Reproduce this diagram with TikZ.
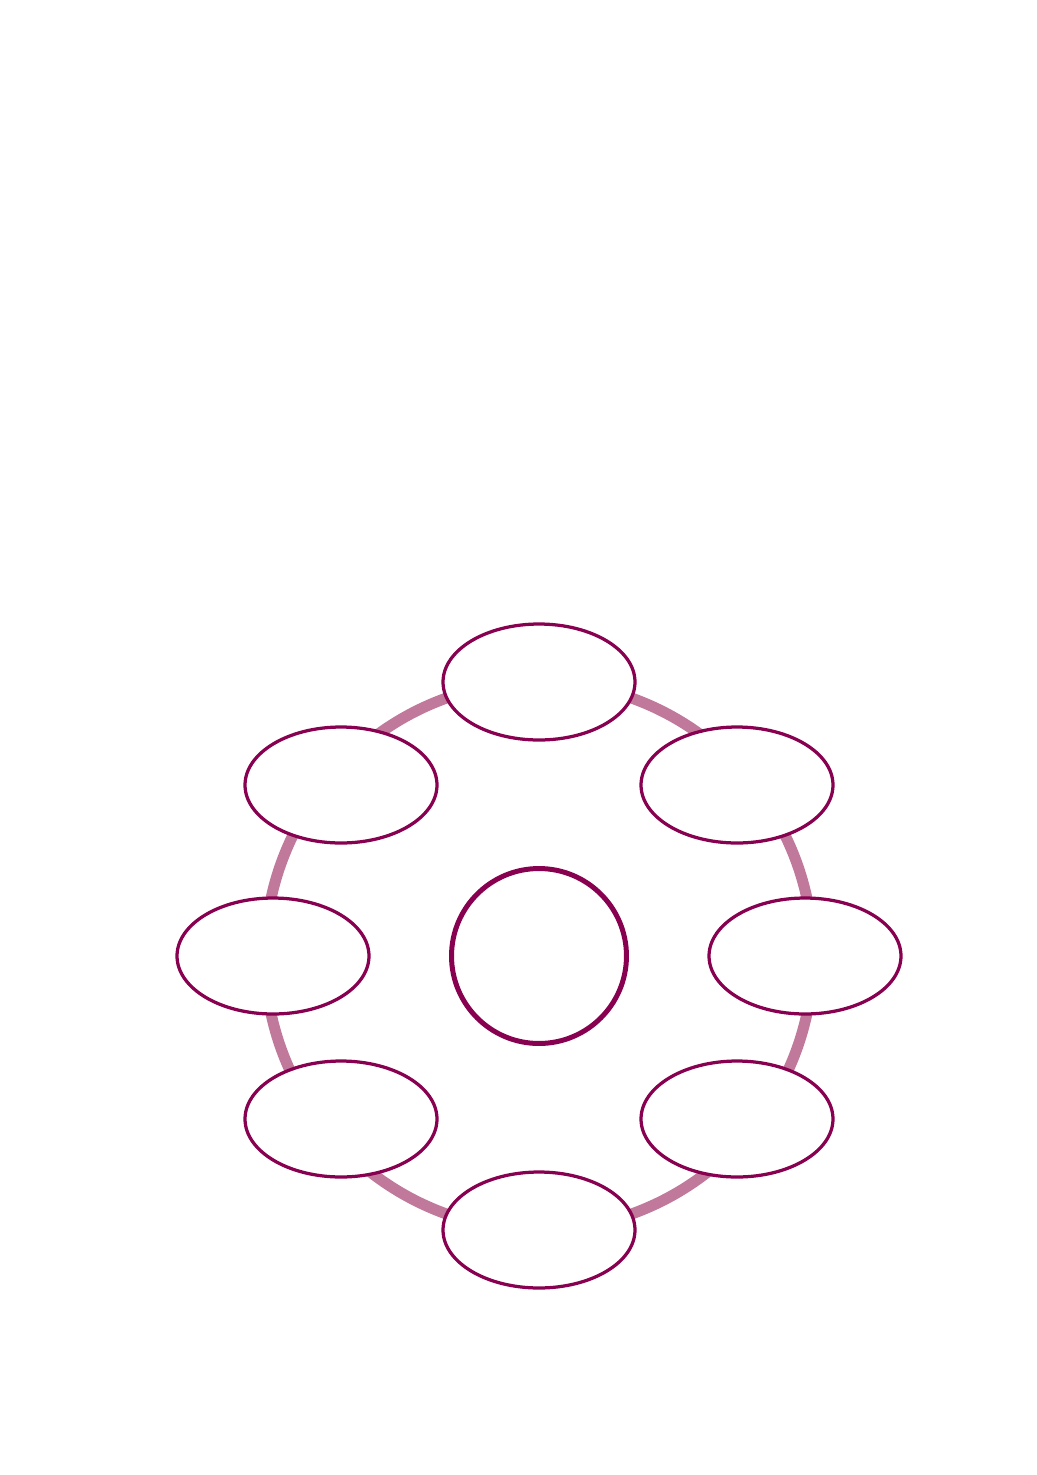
\documentclass[tikz,border=0pt]{standalone}
\usepackage{tikz}
\usetikzlibrary{shapes,positioning}
\definecolor{plum}{RGB}{136,0,80}
\definecolor{plumlight}{RGB}{192,120,155}
\tikzset{%
    petal/.style={%
        ellipse, draw=plum, line width=0.065cm, fill=white, inner sep=0pt, minimum width=3.84cm, minimum height=2.32cm
    },
    hub/.style={%
        circle, draw=plum, line width=0.1cm, fill=white, inner sep=0pt, minimum size=3.5cm
    },
    ring/.style={%
        draw=plumlight, line width=0.22cm
    },
}
\begin{document}
\begin{tikzpicture}[x=0.02cm,y=0.02cm]

    \useasboundingbox (0,0) rectangle (1036,-1475);

    \coordinate (mid) at (539,-956);
    \draw[ring] (mid) circle (274);

    \node[hub] (center) at (mid) {};

    \node[petal] (top) at (539,-682) {};
    \node[petal] (topright) at (737,-785) {};
    \node[petal] (right) at (805,-956) {};
    \node[petal] (bottomright) at (737,-1119) {};
    \node[petal] (bottom) at (539,-1230) {};
    \node[petal] (bottomleft) at (341,-1119) {};
    \node[petal] (left) at (273,-956) {};
    \node[petal] (topleft) at (341,-785) {};

\end{tikzpicture}
\end{document}
